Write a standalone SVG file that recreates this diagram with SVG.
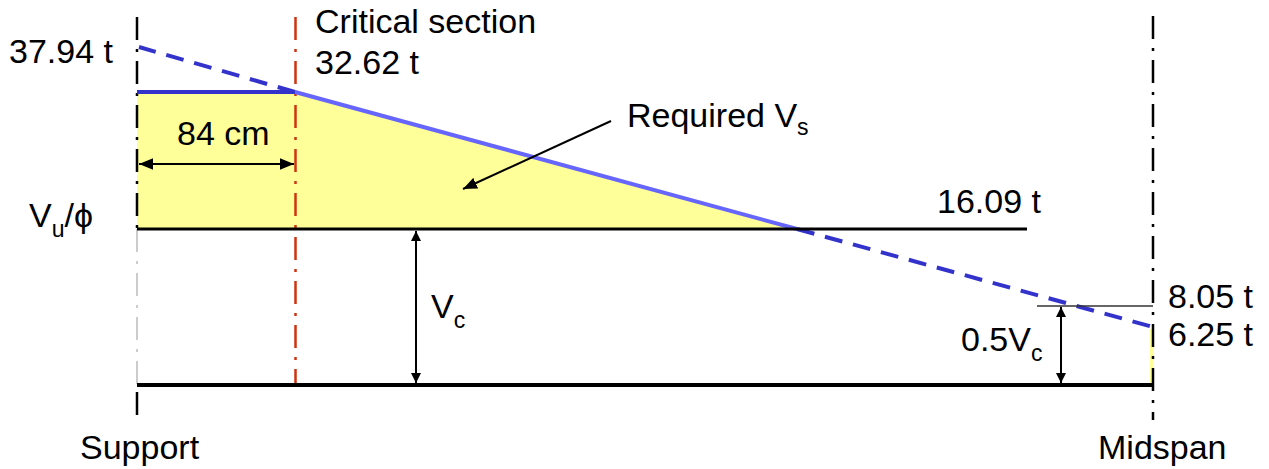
<svg xmlns="http://www.w3.org/2000/svg" width="1269" height="469" viewBox="0 0 1269 469">
<style>
text{font-family:"Liberation Sans",Arial,sans-serif;font-size:34px;fill:#000}
.sub{font-size:23px}
.axis{stroke:#000;stroke-width:2.5;stroke-dasharray:23 9 3 9;fill:none}
.axisg{stroke:#999;stroke-width:1;stroke-dasharray:23 9 3 9;fill:none}
.crit{stroke:#D0330F;stroke-width:2.5;stroke-dasharray:23 9 3 9;fill:none}
.blued{stroke:#3333CC;stroke-width:4;stroke-dasharray:18 11;fill:none}
.dim{stroke:#000;stroke-width:2;fill:none}
</style>
<defs>
<marker id="ah" viewBox="0 0 10 10" refX="10" refY="5" markerWidth="10" markerHeight="10" markerUnits="userSpaceOnUse" orient="auto-start-reverse">
<path d="M0,0 L10,5 L0,10 z" fill="#000"/>
</marker>
<marker id="ahb" viewBox="0 0 12 10" refX="12" refY="5" markerWidth="14" markerHeight="12" markerUnits="userSpaceOnUse" orient="auto-start-reverse">
<path d="M0,0 L12,5 L0,10 z" fill="#000"/>
</marker>
</defs>
<g id="fill">
<polygon points="137,92 295,92 797,229 137,229" fill="#FFFF99"/>
<rect x="1150" y="329" width="3" height="56" fill="#FFFF99"/>
</g>
<g id="support">
<line class="axis" x1="137" y1="17" x2="137" y2="229"/>
<line class="axisg" x1="137" y1="229" x2="137" y2="385"/>
<line class="axis" x1="137" y1="392" x2="137" y2="420"/>
<text x="80" y="459">Support</text>
</g>
<g id="midspan">
<line class="axis" x1="1153" y1="16" x2="1153" y2="420"/>
<text x="1098" y="459">Midspan</text>
</g>
<g id="critical">
<line class="crit" x1="295.5" y1="17" x2="295.5" y2="385"/>
<text x="315" y="33">Critical section</text>
<text x="315" y="74">32.62 t</text>
</g>
<g id="lines">
<line x1="137" y1="92" x2="295" y2="92" stroke="#3333CC" stroke-width="4"/>
<line x1="295" y1="92" x2="797" y2="229" stroke="#6666FF" stroke-width="4"/>
<line class="blued" x1="295" y1="92" x2="139" y2="47"/>
<line class="blued" x1="797" y1="229" x2="1153" y2="327"/>
<line x1="137" y1="229" x2="1027" y2="229" stroke="#000" stroke-width="3"/>
<line x1="137" y1="385" x2="1153" y2="385" stroke="#000" stroke-width="4"/>
<line x1="1037" y1="306" x2="1153" y2="306" stroke="#333" stroke-width="1.5"/>
</g>
<g id="connectors">
<line class="dim" x1="139" y1="164" x2="294" y2="164" marker-start="url(#ahb)" marker-end="url(#ahb)"/>
<line class="dim" x1="416" y1="231" x2="416" y2="383" marker-start="url(#ah)" marker-end="url(#ah)"/>
<line class="dim" x1="1061" y1="307" x2="1061" y2="383" marker-start="url(#ah)" marker-end="url(#ah)"/>
<line class="dim" x1="611" y1="121" x2="463" y2="189" stroke-width="2.5" marker-end="url(#ahb)"/>
</g>
<g id="labels">
<text x="9" y="63">37.94 t</text>
<text x="177" y="145">84 cm</text>
<text x="29" y="227">V<tspan class="sub" dy="10">u</tspan><tspan dy="-10">/ϕ</tspan></text>
<text x="627" y="127">Required V<tspan class="sub" dy="8">s</tspan></text>
<text x="937" y="213">16.09 t</text>
<text x="431" y="318">V<tspan class="sub" dy="10">c</tspan></text>
<text x="1168" y="308">8.05 t</text>
<text x="1168" y="346">6.25 t</text>
<text x="961" y="351">0.5V<tspan class="sub" dy="10">c</tspan></text>
</g>
</svg>
